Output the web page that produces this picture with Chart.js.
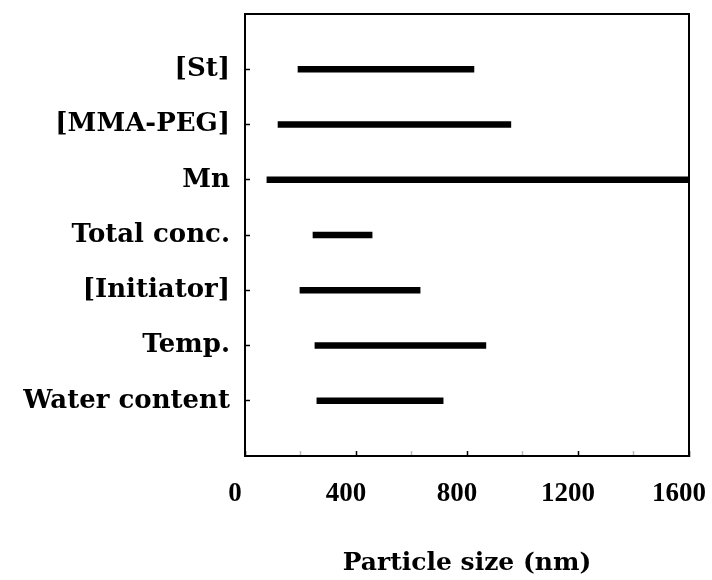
<!DOCTYPE html>
<html>
<head>
<meta charset="utf-8">
<script src="https://cdn.jsdelivr.net/npm/chart.js@4/dist/chart.umd.min.js"></script>
<style>
html,body{margin:0;padding:0;background:#fff;}
#wrap{width:712px;height:580px;position:relative;}
</style>
</head>
<body>
<div id="wrap"><canvas id="c" width="712" height="580"></canvas></div>
<script>
// Data
const categories = ['[St]', '[MMA-PEG]', 'Mn', 'Total conc.', '[Initiator]', 'Temp.', 'Water content'];
const rangeStart = [191, 119, 79, 245, 198, 252, 259];
const rangeEnd   = [825, 958, 1600, 458, 631, 868, 714];
const xTickLabels = [0, 400, 800, 1200, 1600];
const xTitle = 'Particle size (nm)';

// padded category labels (blank slot above and below)
const yLabels = [''].concat(categories, ['']);
const barData = [null].concat(categories.map((c, i) => [rangeStart[i], rangeEnd[i]]), [null]);

const serifTimes = '"Liberation Serif", "Times New Roman", serif';
const serifWide = '"DejaVu Serif", serif';

new Chart(document.getElementById('c'), {
  type: 'bar',
  data: {
    labels: yLabels,
    datasets: [{
      data: barData,
      backgroundColor: '#000',
      borderWidth: 0,
      barThickness: 6,
      borderSkipped: false
    }]
  },
  options: {
    indexAxis: 'y',
    responsive: false,
    animation: false,
    events: [],
    layout: { padding: { left: 0, right: 23, top: 14, bottom: 0 } },
    plugins: { legend: { display: false }, tooltip: { enabled: false } },
    scales: {
      x: {
        type: 'linear',
        position: 'bottom',
        min: 0, max: 1600,
        ticks: {
          stepSize: 200,
          autoSkip: false,
          maxRotation: 0,
          padding: 27,
          labelOffset: -10,
          color: '#000',
          font: { family: serifTimes, size: 27, weight: 'bold' },
          callback: (v) => xTickLabels.includes(v) ? String(v) : ''
        },
        grid: {
          drawOnChartArea: false,
          drawTicks: true,
          tickLength: -5,
          tickWidth: 1.5,
          tickColor: (ctx) => (ctx.tick && xTickLabels.includes(ctx.tick.value)) ? '#000' : '#bbb'
        },
        border: { display: true, color: '#000', width: 2 },
        title: {
          display: true,
          text: xTitle,
          color: '#000',
          font: { family: serifWide, size: 25, weight: 'bold' },
          padding: { top: 0, bottom: 2 }
        },
        afterFit: (s) => { s.height = 124; s.paddingLeft = 0; s.paddingRight = 0; }
      },
      x2: {
        type: 'linear',
        position: 'top',
        min: 0, max: 1600,
        ticks: { display: false },
        grid: { drawOnChartArea: false, drawTicks: false },
        border: { display: true, color: '#000', width: 2 },
        afterFit: (s) => { s.height = 0; s.paddingLeft = 0; s.paddingRight = 0; }
      },
      y: {
        type: 'category',
        position: 'left',
        offset: false,
        ticks: {
          autoSkip: false,
          padding: 20,
          color: '#000',
          font: { family: serifWide, size: 26, weight: 'bold' }
        },
        grid: {
          offset: false,
          drawOnChartArea: false,
          drawTicks: true,
          tickLength: -5,
          tickWidth: 1.5,
          tickColor: (ctx) => (ctx.index === 0 || ctx.index === yLabels.length - 1) ? 'rgba(0,0,0,0)' : '#000'
        },
        border: { display: true, color: '#000', width: 2 },
        afterFit: (s) => { s.width = 245; s.paddingTop = 0; s.paddingBottom = 0; }
      },
      y2: {
        type: 'linear',
        position: 'right',
        min: 0, max: 1,
        ticks: { display: false },
        grid: { drawOnChartArea: false, drawTicks: false },
        border: { display: true, color: '#000', width: 2 },
        afterFit: (s) => { s.width = 0; s.paddingTop = 0; s.paddingBottom = 0; }
      }
    }
  }
});
</script>
</body>
</html>
